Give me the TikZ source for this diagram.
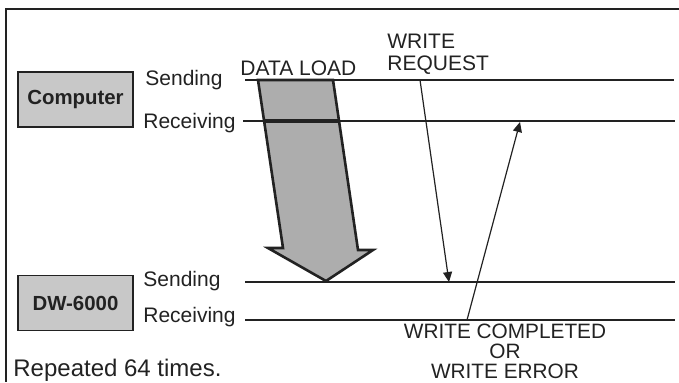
\documentclass[tikz,border=0pt]{standalone}
\usepackage{fontspec}
\setmainfont{Liberation Sans}
\usetikzlibrary{positioning, arrows.meta}

\definecolor{ink}{HTML}{222222}
\definecolor{boxgray}{HTML}{C8C8C8}
\definecolor{arrowgray}{HTML}{ADADAD}

\begin{document}
\begin{tikzpicture}[
    x=0.5pt, y=-0.5pt,
    >={Triangle[length=5pt, width=4.5pt]},
    lbl/.style={inner sep=0pt, text=ink, font=\fontsize{10.5}{12}\selectfont},
    unit/.style={draw=ink, fill=boxgray, line width=0.8pt, minimum width=57.5pt, minimum height=27.5pt, inner sep=0pt, text=ink, font=\fontsize{10.2}{12}\selectfont\bfseries},
    sig/.style={draw=ink, line width=0.75pt},
    msg/.style={->, draw=ink, line width=0.6pt},
    bulk/.style={draw=ink, fill=arrowgray, line width=1.3pt, line join=miter},
]
\useasboundingbox (0,0) rectangle (679,382);

% frame
\draw[ink, line width=0.8pt] (679,9) -- (6,9) -- (6,382);

% units
\node[unit] (comp) at (75.5,99.5) {Computer};
\node[unit, below=73.5pt of comp] (dw) {DW-6000};

% signal labels
\node[lbl, anchor=base west] (cSend) at (145,85) {Sending};
\node[lbl, anchor=base west] (cRecv) at (143,128) {Receiving};
\node[lbl, anchor=base west] (dSend) at (143,286) {Sending};
\node[lbl, anchor=base west] (dRecv) at (143,322) {Receiving};

% signal lines
\coordinate (cSendA) at (245,80);  \coordinate (cSendB) at (674,80);
\coordinate (cRecvA) at (243,121); \coordinate (cRecvB) at (675,121);
\coordinate (dSendA) at (245,282); \coordinate (dSendB) at (675,282);
\coordinate (dRecvA) at (245,320); \coordinate (dRecvB) at (675,320);

% data load
\draw[bulk] (258,80) -- (283,248) -- (268,248) -- (326,281) -- (373,250) -- (358,250) -- (333,80) -- cycle;

\draw[sig] (cSendA) -- (cSendB);
\draw[sig] (cRecvA) -- (cRecvB);
\draw[sig] (dSendA) -- (dSendB);
\draw[sig] (dRecvA) -- (dRecvB);
\draw[ink, line width=2pt] (264,121) -- (339,121);

\node[lbl, anchor=base west] (load) at (240,75) {DATA LOAD};
\node[lbl, anchor=base west] (req) at (387,70) {REQUEST};
\node[lbl, anchor=base west] (wreq) at (387,48) {WRITE};

% handshake
\coordinate (reqTop) at (420,80);
\coordinate (reqEnd) at (449,282);
\coordinate (ansBot) at (467,320);
\coordinate (ansEnd) at (520,122);
\draw[msg] (reqTop) -- (reqEnd);
\draw[msg] (ansBot) -- (ansEnd);

\node[lbl, anchor=north, align=center, font=\fontsize{10.4}{10}\selectfont] (done) at (505,324) {WRITE COMPLETED\\OR\\WRITE ERROR};

\node[lbl, anchor=base west, font=\fontsize{12}{14}\selectfont] (rep) at (13,376) {Repeated 64 times.};
\end{tikzpicture}
\end{document}
